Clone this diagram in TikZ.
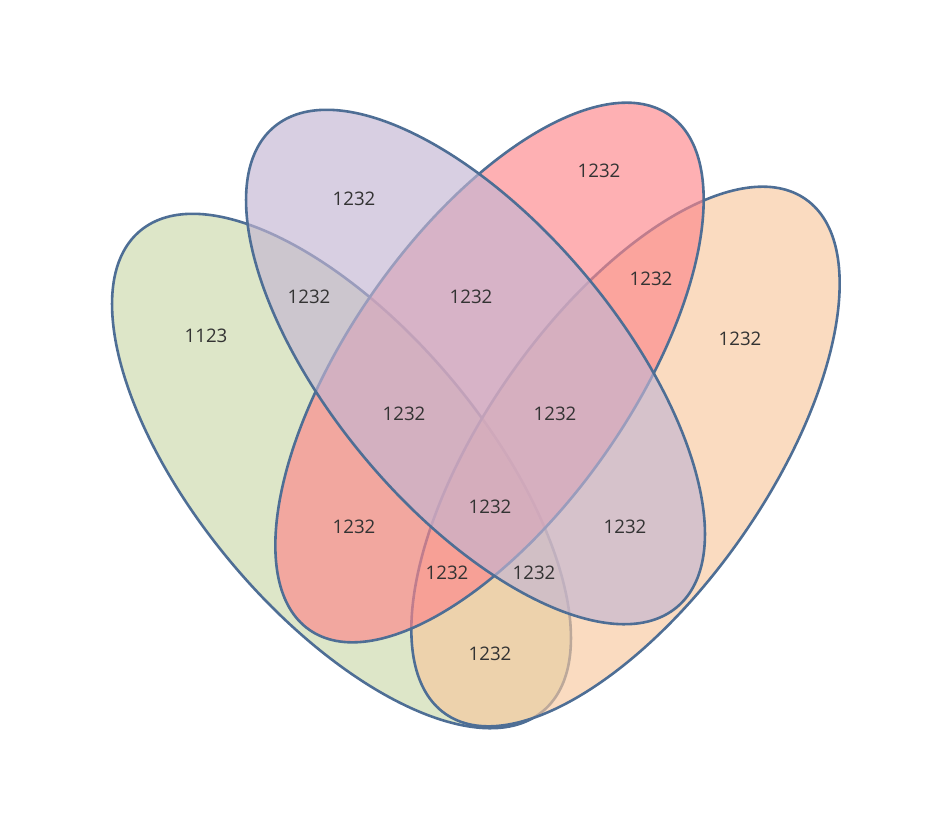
\documentclass[tikz,border=0pt]{standalone}
\usepackage{fontspec}
\setmainfont{Open Sans}
\definecolor{strokec}{HTML}{4E6E95}
\definecolor{greenc}{HTML}{CBD9AA}
\definecolor{purplec}{HTML}{C3B5D2}
\definecolor{redc}{HTML}{FD868A}
\definecolor{orangec}{HTML}{F7C89E}
\definecolor{textc}{HTML}{333333}
\begin{document}
\begin{tikzpicture}[x=1pt,y=-1pt,
  setshape/.style={draw=strokec, line width=2.6pt, fill opacity=0.65},
  lbl/.style={font=\fontsize{18.7}{20}\selectfont, text=textc, inner sep=0pt}]
\useasboundingbox (0,0) rectangle (952,835);
% green
\path[setshape, fill=greenc, shift={(341.5,471)}, rotate=-50] (0,0) ellipse [x radius=313.4pt, y radius=143.3pt];
% orange
\path[setshape, fill=orangec, shift={(625.5,456.5)}, rotate=55] (0,0) ellipse [x radius=314.1pt, y radius=141.3pt];
% red
\path[setshape, fill=redc, shift={(489.5,372.5)}, rotate=55] (0,0) ellipse [x radius=314.1pt, y radius=141.3pt];
% purple
\path[setshape, fill=purplec, shift={(475.5,367)}, rotate=-50] (0,0) ellipse [x radius=313.4pt, y radius=143.3pt];
% labels
\node[lbl] (l1) at (206,336) {1123};
\node[lbl] (l2) at (354,199) {1232};
\node[lbl] (l3) at (599,171) {1232};
\node[lbl] (l4) at (309,297) {1232};
\node[lbl] (l5) at (471,297) {1232};
\node[lbl] (l6) at (651,279) {1232};
\node[lbl] (l7) at (740,339) {1232};
\node[lbl] (l8) at (404,414) {1232};
\node[lbl] (l9) at (555,414) {1232};
\node[lbl] (l10) at (490,507) {1232};
\node[lbl] (l11) at (354,527) {1232};
\node[lbl] (l12) at (625,527) {1232};
\node[lbl] (l13) at (447,573) {1232};
\node[lbl] (l14) at (534,573) {1232};
\node[lbl] (l15) at (490,654) {1232};
\end{tikzpicture}
\end{document}
